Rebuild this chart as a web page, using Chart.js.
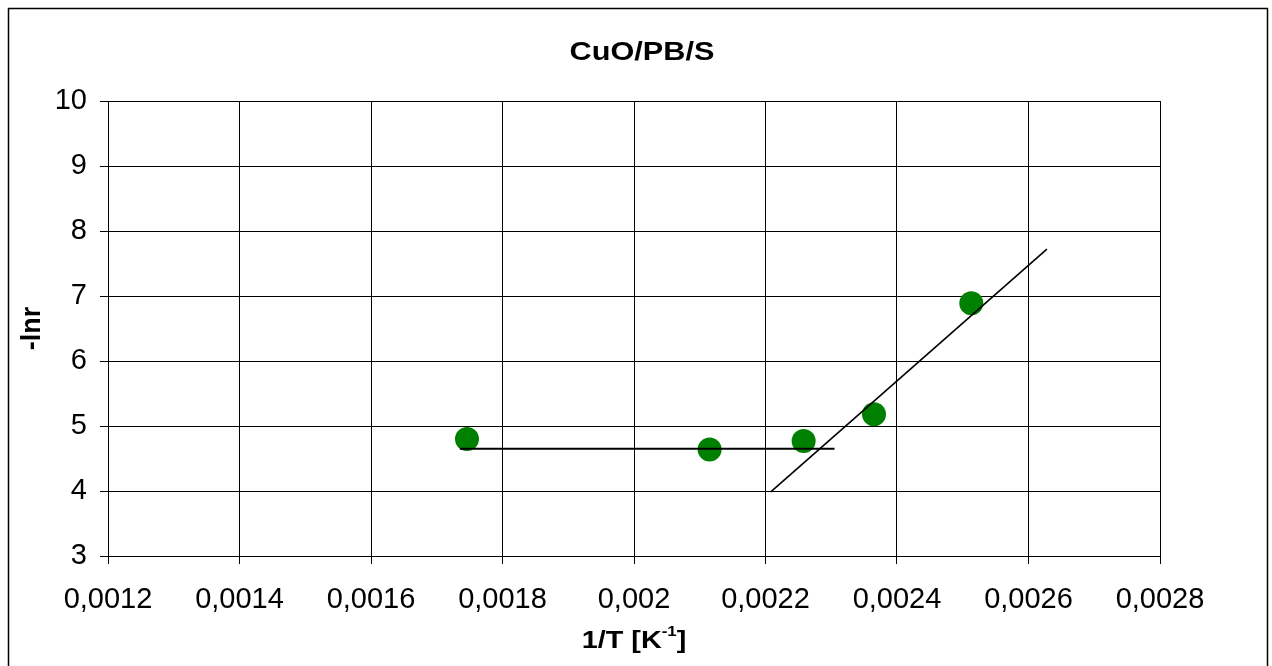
<!DOCTYPE html>
<html lang="en">
<head>
    <meta charset="UTF-8">
    <title>CuO/PB/S</title>
    <script src="https://cdn.jsdelivr.net/npm/chart.js"></script>
    <style>
        body {
            margin: 0;
            background: #fff;
        }
        canvas {
            display: block;
        }
    </style>
</head>
<body>
    <canvas id="arrhenius" width="1272" height="666"></canvas>

    <script>
        // measured points: 1/T vs -ln r
        const invT = [0.001746, 0.002115, 0.002258, 0.002365, 0.002513];
        const negLnR = [4.80, 4.64, 4.77, 5.18, 6.89];

        // hand-fitted lines through the two regimes
        const flatX = [0.001735, 0.002305];
        const flatY = [4.65, 4.65];
        const slopeX = [0.002208, 0.002628];
        const slopeY = [3.985, 7.72];

        const xMin = 0.0012, xMax = 0.0028, xStep = 0.0002;
        const yMin = 3, yMax = 10, yStep = 1;

        const fontFamily = "'Liberation Sans', Arial, sans-serif";

        function toPoints(xs, ys) {
            return xs.map((x, i) => ({ x: x, y: ys[i] }));
        }

        // draws a run of [text, fontSize, rise] pieces, centred on cx and widened by sx
        function drawStretched(ctx, parts, cx, base, sx) {
            let total = 0;
            parts.forEach(p => {
                ctx.font = "bold " + p[1] + "px " + fontFamily;
                p.w = ctx.measureText(p[0]).width;
                total += p.w;
            });
            ctx.save();
            ctx.translate(cx, base);
            ctx.scale(sx, 1);
            let x = -total / 2;
            parts.forEach(p => {
                ctx.font = "bold " + p[1] + "px " + fontFamily;
                ctx.fillText(p[0], x, -p[2]);
                x += p.w;
            });
            ctx.restore();
        }

        // white background, frame round the whole chart, title and x-axis title with superscript
        const decorations = {
            id: "decorations",
            beforeDraw(chart) {
                const ctx = chart.ctx;
                ctx.save();
                ctx.fillStyle = "#fff";
                ctx.fillRect(0, 0, chart.width, chart.height);
                ctx.strokeStyle = "#000";
                ctx.lineWidth = 1.5;
                ctx.strokeRect(8.5, 8.5, 1259, 700);
                ctx.restore();
            },
            afterDraw(chart) {
                const ctx = chart.ctx;
                const area = chart.chartArea;
                const cx = (area.left + area.right) / 2;
                ctx.save();
                ctx.fillStyle = "#000";
                ctx.textBaseline = "alphabetic";
                ctx.textAlign = "left";
                drawStretched(ctx, [["CuO/PB/S", 26, 0]], 642, 60, 1.18);
                drawStretched(ctx, [["1/T [K", 24, 0], ["-1", 14, 12], ["]", 24, 0]], cx, 648, 1.2);
                ctx.restore();
            }
        };

        const ctx = document.getElementById("arrhenius").getContext("2d");
        const chart = new Chart(ctx, {
            type: "scatter",
            data: {
                datasets: [
                    {
                        data: toPoints(flatX, flatY),
                        showLine: true,
                        borderColor: "#000",
                        borderWidth: 2,
                        pointRadius: 0
                    },
                    {
                        data: toPoints(slopeX, slopeY),
                        showLine: true,
                        borderColor: "#000",
                        borderWidth: 1.6,
                        pointRadius: 0
                    },
                    {
                        data: toPoints(invT, negLnR),
                        backgroundColor: "#008000",
                        borderWidth: 0,
                        pointRadius: 12,
                        pointHoverRadius: 12
                    }
                ]
            },
            options: {
                responsive: false,
                animation: false,
                layout: { padding: { left: 0, top: 101, right: 112, bottom: 0 } },
                plugins: {
                    legend: { display: false },
                    tooltip: { enabled: false }
                },
                scales: {
                    x: {
                        type: "linear",
                        min: xMin,
                        max: xMax,
                        afterFit(scale) { scale.height = 110; },
                        grid: { color: "#000", lineWidth: 1, tickLength: 8 },
                        border: { color: "#000", width: 1 },
                        ticks: {
                            stepSize: xStep,
                            padding: 19,
                            color: "#000",
                            font: { family: fontFamily, size: 29 },
                            callback: (v) => String(+v.toFixed(4)).replace(".", ",")
                        }
                    },
                    y: {
                        min: yMin,
                        max: yMax,
                        afterFit(scale) { scale.width = 108; },
                        grid: { color: "#000", lineWidth: 1, tickLength: 8 },
                        border: { color: "#000", width: 1 },
                        ticks: {
                            stepSize: yStep,
                            padding: 13,
                            color: "#000",
                            font: { family: fontFamily, size: 29 }
                        },
                        title: {
                            display: true,
                            text: "-lnr",
                            color: "#000",
                            font: { family: fontFamily, size: 27, weight: "bold" },
                            padding: { top: 16, bottom: 0 }
                        }
                    }
                }
            },
            plugins: [decorations]
        });
    </script>
</body>
</html>
